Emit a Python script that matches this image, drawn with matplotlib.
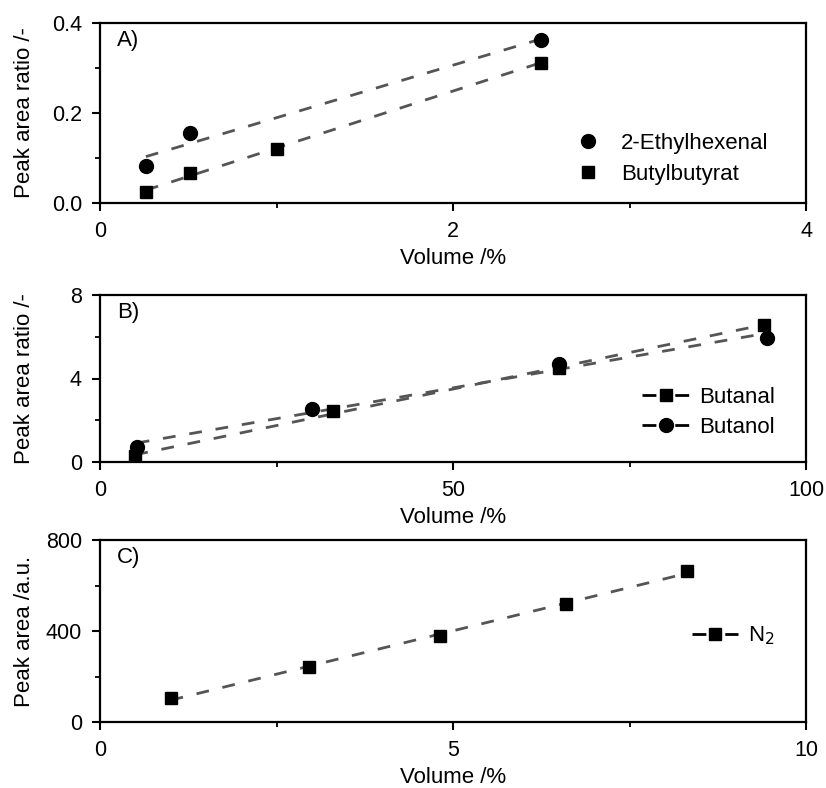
import numpy as np
import matplotlib.pyplot as plt
from matplotlib.ticker import MultipleLocator, FormatStrFormatter

# Daten
a_eth_x = [0.26, 0.51, 2.5]
a_eth_y = [0.082, 0.156, 0.362]
a_but_x = [0.26, 0.51, 1.0, 2.5]
a_but_y = [0.024, 0.067, 0.12, 0.312]

b_al_x = [5, 33, 65, 94]
b_al_y = [0.27, 2.45, 4.48, 6.57]
b_ol_x = [5.2, 30, 65, 94.5]
b_ol_y = [0.7, 2.55, 4.68, 5.96]

c_n2_x = [1.0, 2.96, 4.82, 6.6, 8.32]
c_n2_y = [104, 241, 378, 520, 662]

plt.rcParams['font.family'] = ['Liberation Sans', 'DejaVu Sans']

LC = '#555555'
DASH = (0, (4.6, 5))
LEG_DASH = (0, (5, 6.8))
FS = 16


def fitlinie(ax, x, y):
    k, d = np.polyfit(x, y, 1)
    xs = np.array([min(x), max(x)])
    ax.plot(xs, k * xs + d, color=LC, lw=2, ls=DASH, zorder=1)


def stil(ax, xmax, xmaj, ymax, ymaj, label, ylabel):
    ax.set_xlim(0, xmax)
    ax.set_ylim(0, ymax)
    ax.xaxis.set_major_locator(MultipleLocator(xmaj))
    ax.xaxis.set_minor_locator(MultipleLocator(xmaj / 2))
    ax.yaxis.set_major_locator(MultipleLocator(ymaj))
    ax.yaxis.set_minor_locator(MultipleLocator(ymaj / 2))
    for s in ax.spines.values():
        s.set_linewidth(1.6)
    ax.tick_params(which='major', direction='out', length=6, width=1.5,
                   labelsize=FS - 0.5, pad=7)
    ax.tick_params(which='minor', direction='out', length=3.5, width=1.3)
    # Abstand in Pixel -> Achsenkoordinaten
    h = ax.get_position().height * 788
    ax.set_xlabel('Volume /%', fontsize=FS)
    ax.xaxis.set_label_coords(0.5, -45 / h)
    ax.set_ylabel(ylabel, fontsize=FS)
    ax.yaxis.set_label_coords(-0.092, 0.5)
    ax.text(0.024, 0.96, label, transform=ax.transAxes, fontsize=FS,
            va='top', ha='left')


fig = plt.figure(figsize=(8.26, 7.88), dpi=100)
axA = fig.add_axes([100 / 826, 1 - 203 / 788, 706 / 826, 180 / 788])
axB = fig.add_axes([100 / 826, 1 - 462 / 788, 706 / 826, 167 / 788])
axC = fig.add_axes([100 / 826, 1 - 722 / 788, 706 / 826, 182 / 788])

# A)
fitlinie(axA, a_eth_x, a_eth_y)
fitlinie(axA, a_but_x, a_but_y)
axA.plot(a_eth_x, a_eth_y, 'o', color='black', ms=10, ls='none', label='2-Ethylhexenal')
axA.plot(a_but_x, a_but_y, 's', color='black', ms=9, ls='none', label='Butylbutyrat')
stil(axA, 4, 2, 0.4, 0.2, 'A)', 'Peak area ratio /-')
axA.yaxis.set_major_formatter(FormatStrFormatter('%.1f'))
axA.legend(loc='upper left', bbox_to_anchor=(0.672, 0.39), frameon=False,
           fontsize=FS, handlelength=1.2, handletextpad=0.9, labelspacing=0.45,
           borderpad=0, borderaxespad=0)

# B)
fitlinie(axB, b_al_x, b_al_y)
fitlinie(axB, b_ol_x, b_ol_y)
axB.plot(b_al_x, b_al_y, 's', color='black', ms=9, ls='none', zorder=3)
axB.plot(b_ol_x, b_ol_y, 'o', color='black', ms=10, ls='none', zorder=3)
axB.plot([], [], marker='s', color='black', ms=9, ls=LEG_DASH, lw=2, label='Butanal')
axB.plot([], [], marker='o', color='black', ms=10, ls=LEG_DASH, lw=2, label='Butanol')
stil(axB, 100, 50, 8, 4, 'B)', 'Peak area ratio /-')
axB.legend(loc='upper left', bbox_to_anchor=(0.768, 0.45), frameon=False,
           fontsize=FS, handlelength=2.1, handletextpad=0.45, labelspacing=0.4,
           borderpad=0, borderaxespad=0)

# C)
fitlinie(axC, c_n2_x, c_n2_y)
axC.plot(c_n2_x, c_n2_y, 's', color='black', ms=9, ls='none', zorder=3)
axC.plot([], [], marker='s', color='black', ms=9, ls=LEG_DASH, lw=2, label='N$_2$')
stil(axC, 10, 5, 800, 400, 'C)', 'Peak area /a.u.')
axC.legend(loc='upper left', bbox_to_anchor=(0.838, 0.535), frameon=False,
           fontsize=FS, handlelength=2.1, handletextpad=0.45,
           borderpad=0, borderaxespad=0)

fig.savefig('out.png', dpi=100)
